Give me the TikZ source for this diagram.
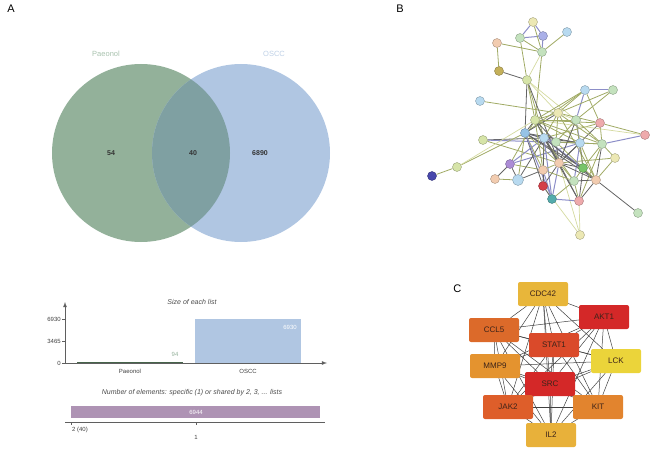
\documentclass[tikz,border=0pt]{standalone}
\usepackage{fontspec}
\setmainfont{Liberation Sans}
\usetikzlibrary{backgrounds}

\definecolor{paeogreen}{RGB}{147,177,154}
\definecolor{osccblue}{RGB}{176,198,226}
\definecolor{overlapc}{RGB}{127,160,162}
\definecolor{paeotext}{RGB}{168,194,174}
\definecolor{oscctext}{RGB}{190,208,230}
\definecolor{barpurple}{RGB}{174,147,180}
\definecolor{bargreen}{RGB}{70,100,75}
\definecolor{axisgray}{RGB}{95,95,95}
% panel B node colours
\definecolor{byel}{RGB}{236,232,180}
\definecolor{bgreen}{RGB}{196,226,190}
\definecolor{bygreen}{RGB}{214,228,168}
\definecolor{bblue}{RGB}{184,218,240}
\definecolor{bblue2}{RGB}{150,195,230}
\definecolor{blav}{RGB}{170,176,232}
\definecolor{bpeach}{RGB}{242,204,176}
\definecolor{bpink}{RGB}{238,170,172}
\definecolor{bolive}{RGB}{196,176,90}
\definecolor{bred}{RGB}{212,62,72}
\definecolor{bteal}{RGB}{84,172,172}
\definecolor{bpurple}{RGB}{172,140,214}
\definecolor{bindigo}{RGB}{72,72,172}
\definecolor{bbright}{RGB}{120,196,104}
% panel C hub colours
\definecolor{hubred}{RGB}{212,40,40}
\definecolor{hubred2}{RGB}{218,74,42}
\definecolor{huborange}{RGB}{220,106,42}
\definecolor{huborange2}{RGB}{222,94,42}
\definecolor{hubamber}{RGB}{226,132,46}
\definecolor{hubamber2}{RGB}{228,147,47}
\definecolor{hubgold}{RGB}{232,182,58}
\definecolor{hubgold2}{RGB}{232,177,58}
\definecolor{hubyellow}{RGB}{235,212,58}

\begin{document}
\begin{tikzpicture}[x=1pt, y=-1pt, >=latex, line width=0.6pt,
        panel/.style={font=\fontsize{11}{12}\selectfont, anchor=north west, inner sep=0pt},
        vnum/.style={font=\fontsize{7}{8}\selectfont\bfseries, text=black!80},
        tick/.style={font=\fontsize{6}{7}\selectfont, text=black!75, inner sep=1pt},
        ttl/.style={font=\fontsize{7}{8}\selectfont\itshape, text=black!70},
        bnode/.style={circle, draw=#1!70!black, line width=0.4pt, fill=#1, minimum size=9pt, inner sep=0pt},
        lnolive/.style={draw={rgb,255:red,160;green,170;blue,100}, line width=0.8pt},
        lnblue/.style={draw={rgb,255:red,140;green,142;blue,200}, line width=1pt},
        lngray/.style={draw={rgb,255:red,100;green,100;blue,100}, line width=0.8pt},
        lnpale/.style={draw={rgb,255:red,212;green,218;blue,160}, line width=0.7pt},
        hub/.style={rectangle, rounded corners=2pt, minimum width=50pt, minimum height=24pt,
            inner sep=0pt, font=\fontsize{8}{9}\selectfont, text={rgb,255:red,60;green,35;blue,25}, fill=#1},
        hubedge/.style={draw=black!75, line width=0.5pt}]

    \useasboundingbox (0,0) rectangle (658,449);

    % --- panel letters ---
    \node[panel] (pa) at (7,5) {A};
    \node[panel] (pb) at (396,5) {B};
    \node[panel] (pc) at (453,285) {C};

    % --- A: Venn ---
    \fill[paeogreen] (141,153) circle (89pt);
    \fill[osccblue] (241,153) circle (89pt);
    \begin{scope}
        \clip (141,153) circle (89pt);
        \fill[overlapc] (241,153) circle (89pt);
    \end{scope}
    \node[font=\fontsize{7.5}{8}\selectfont, text=paeotext] (lpaeo) at (106,54) {Paeonol};
    \node[font=\fontsize{7.5}{8}\selectfont, text=oscctext] (losc) at (274,54) {OSCC};
    \node[vnum] (v54) at (111,153) {54};
    \node[vnum] (v40) at (193,153) {40};
    \node[vnum] (v6890) at (260,153) {6890};

    % --- A: size of each list ---
    \node[ttl] (t1) at (192,302) {Size of each list};
    \fill[osccblue] (195,319) rectangle (301,363);
    \draw[bargreen, line width=1.4pt] (77,362.3) -- (183,362.3);
    \draw[axisgray, line width=0.8pt, ->] (65,363) -- (65,302);
    \draw[axisgray, line width=0.8pt, ->] (65,363) -- (327,363);
    \foreach \y/\t in {363/0, 341/3465, 319/6930} {
        \draw[axisgray] (62,\y) -- (65,\y);
        \node[tick, anchor=east] at (62,\y) {\t};
    }
    \node[tick, text=paeogreen] (n94) at (175,354) {94};
    \node[tick, text=white] (n6930) at (290,327) {6930};
    \node[tick] (xpaeo) at (130,371) {Paeonol};
    \node[tick] (xosc) at (248,371) {OSCC};

    % --- A: shared elements ---
    \node[ttl] (t2) at (192,393) {Number of elements: specific (1) or shared by 2, 3, ... lists};
    \fill[barpurple] (71,406) rectangle (320,418);
    \node[tick, text=white] (n6944) at (196,412) {6944};
    \draw[axisgray, line width=0.8pt] (65,422) -- (325,422);
    \draw[axisgray] (71,422) -- (71,425);
    \draw[axisgray] (196,422) -- (196,425);
    \node[tick] (x240) at (80,430) {2 (40)};
    \node[tick] (x1) at (196,437) {1};

    % --- B: interaction network ---
    \foreach \n/\x/\y/\c in {
        1/533/22/byel, 2/520/38/bgreen, 3/543/36/blav, 4/567/32/bblue, 5/542/52/bgreen,
        6/497/43/bpeach, 7/499/71/bolive, 8/527/80/bygreen, 9/585/90/bblue, 10/613/90/bgreen,
        11/480/101/bblue, 12/558/113/byel, 13/535/120/bygreen, 14/576/120/bgreen, 15/600/123/bpink,
        16/645/135/bpink, 17/525/133/bblue2, 18/544/138/bblue, 19/556/142/bgreen, 20/580/143/bblue,
        21/602/144/bgreen, 22/483/140/bygreen, 23/615/158/byel, 24/510/164/bpurple, 25/559/163/bpeach,
        26/583/168/bbright, 27/543/170/bpeach, 28/596/180/bpeach, 29/574/181/bgreen, 30/495/179/bpeach,
        32/543/186/bred, 33/552/199/bteal, 34/579/201/bpink, 35/638/213/bgreen, 36/580/235/byel,
        37/457/167/bygreen, 38/432/176/bindigo} {
        \node[bnode=\c] (b\n) at (\x,\y) {};
    }
    \node[bnode=bblue, minimum size=11pt] (b31) at (518,180) {};

    \begin{pgfonlayer}{background}
        % outer links
        \foreach \a/\b/\s in {
            1/2/lnblue, 1/3/lnblue, 2/3/lnblue, 1/5/lnolive, 2/5/lnolive, 3/5/lnblue, 4/5/lnolive,
            6/5/lnolive, 6/7/lnolive, 7/8/lngray, 8/5/lnpale, 2/8/lnolive, 5/13/lnolive, 8/13/lnolive,
            8/17/lngray, 8/18/lnolive, 8/12/lnpale, 8/14/lnpale, 8/25/lngray,
            9/10/lnblue, 9/12/lnolive, 9/13/lnolive, 9/14/lnblue, 9/15/lnolive, 9/17/lnolive,
            10/12/lnolive, 10/14/lnolive, 11/12/lnolive, 22/18/lngray, 22/20/lnblue, 22/25/lnolive,
            37/38/lnolive, 37/17/lnolive, 37/13/lnpale,
            24/30/lngray, 24/31/lngray, 24/18/lnblue, 24/20/lnblue, 24/27/lnolive, 24/13/lnolive,
            30/31/lnolive, 31/27/lngray, 31/17/lnolive, 31/18/lngray,
            15/16/lnolive, 15/21/lnolive, 15/18/lnolive, 15/25/lngray, 15/12/lnolive, 15/13/lnolive,
            16/21/lnblue, 16/13/lnpale, 23/21/lnolive, 23/25/lnolive, 23/28/lnolive,
            28/35/lngray, 28/12/lnolive, 28/17/lngray, 28/18/lnblue,
            36/34/lnpale, 36/32/lnpale, 36/25/lnpale} {
            \draw[\s] (b\a) -- (b\b);
        }
        % dense core
        \foreach \a/\b/\s in {
            12/13/lnolive, 12/14/lnpale, 12/17/lngray, 12/18/lnolive, 12/19/lnolive, 12/21/lnolive,
            13/14/lnolive, 13/17/lngray, 13/18/lnolive, 13/19/lngray, 13/20/lnolive, 13/21/lnolive,
            14/19/lnolive, 14/20/lnblue, 14/21/lnolive, 17/18/lnblue, 17/19/lngray, 17/20/lngray,
            17/25/lnolive, 17/26/lngray, 17/27/lnolive, 17/32/lngray, 17/33/lnblue,
            18/19/lnblue, 18/20/lngray, 18/25/lngray, 18/26/lnblue, 18/27/lnolive, 18/28/lngray,
            18/29/lnolive, 18/32/lngray, 18/33/lnblue, 18/34/lngray, 19/20/lnolive, 19/21/lnolive,
            19/25/lngray, 19/26/lnolive, 20/21/lnolive, 20/25/lngray, 20/26/lngray, 20/28/lnolive,
            20/29/lnblue, 21/26/lnolive, 21/28/lngray, 21/34/lnolive, 25/26/lngray, 25/27/lnolive,
            25/28/lngray, 25/29/lnolive, 25/32/lngray, 25/33/lnblue, 25/34/lngray, 26/28/lnolive,
            26/29/lnolive, 26/34/lngray, 27/29/lnolive, 27/32/lngray, 27/33/lnblue, 28/29/lngray,
            28/34/lngray, 29/33/lnolive, 29/34/lnolive, 32/33/lngray, 33/34/lnblue, 13/25/lngray,
            13/27/lnolive, 14/25/lngray, 14/26/lnolive} {
            \draw[\s] (b\a) -- (b\b);
        }
    \end{pgfonlayer}

    % --- C: hub genes ---
    \node[hub=hubgold] (cdc42) at (543,294) {CDC42};
    \node[hub=hubred] (akt1) at (604,317) {AKT1};
    \node[hub=huborange] (ccl5) at (494,330) {CCL5};
    \node[hub=hubred2] (stat1) at (554,345) {STAT1};
    \node[hub=hubamber2] (mmp9) at (495,366) {MMP9};
    \node[hub=hubyellow] (lck) at (616,361) {LCK};
    \node[hub=hubred] (src) at (550,384) {SRC};
    \node[hub=huborange2] (jak2) at (508,407) {JAK2};
    \node[hub=hubamber] (kit) at (598,407) {KIT};
    \node[hub=hubgold2] (il2) at (551,435) {IL2};

    \begin{pgfonlayer}{background}
        \foreach \a [count=\i] in {cdc42,akt1,ccl5,stat1,mmp9,lck,src,jak2,kit,il2} {
            \foreach \b [count=\j] in {cdc42,akt1,ccl5,stat1,mmp9,lck,src,jak2,kit,il2} {
                \ifnum\j>\i
                    \draw[hubedge] (\a) -- (\b);
                \fi
            }
        }
    \end{pgfonlayer}

\end{tikzpicture}
\end{document}
